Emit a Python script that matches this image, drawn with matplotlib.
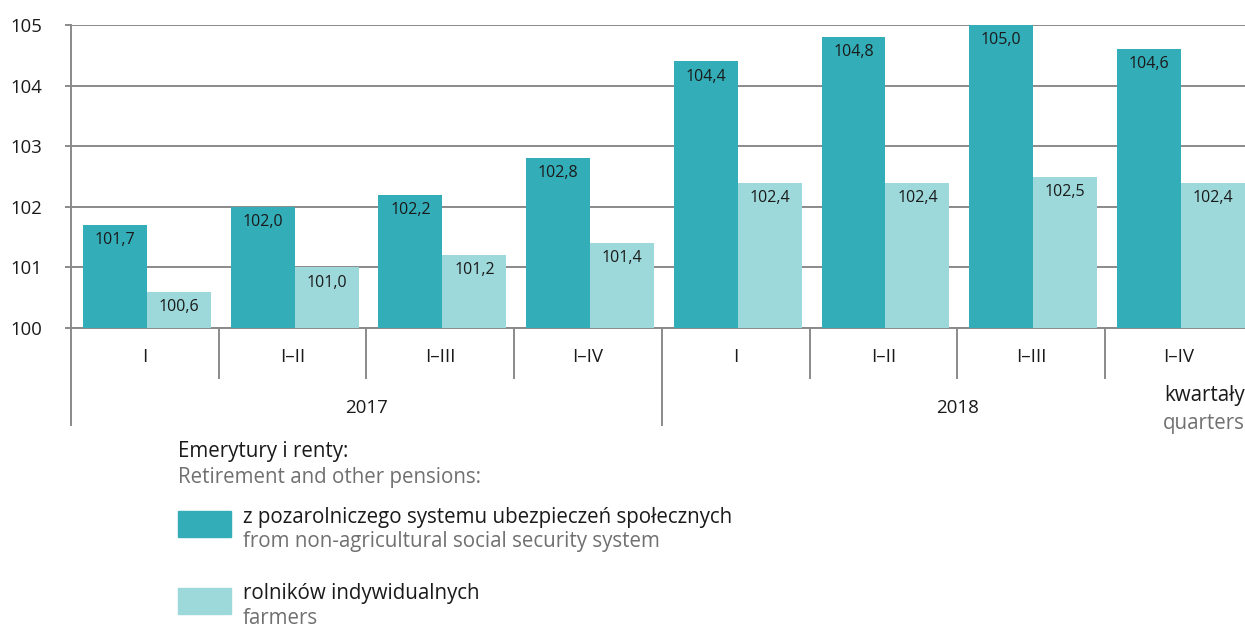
import matplotlib.pyplot as plt
import matplotlib.transforms as mtransforms
from matplotlib.patches import Rectangle

# Pension indices (previous year = 100), cumulative quarters
years = ["2017", "2018"]
periods = ["I", "I\u2013II", "I\u2013III", "I\u2013IV"]
non_agri = [101.7, 102.0, 102.2, 102.8, 104.4, 104.8, 105.0, 104.6]
farmers = [100.6, 101.0, 101.2, 101.4, 102.4, 102.4, 102.5, 102.4]

DARK = "#33adb8"
LIGHT = "#9dd8da"
GRID = "#8a8a8a"
GREY_TXT = "#707070"
TXT = "#1a1a1a"
LEG_FS = 14.8

plt.rcParams["font.family"] = ["Open Sans", "DejaVu Sans"]

W, H = 1245, 628
fig = plt.figure(figsize=(W / 100, H / 100), dpi=100)

# axes placed in pixel units
left, right, top, bottom = 71, 1245, 25, 328
ax = fig.add_axes([left / W, 1 - bottom / H, (right - left) / W, (bottom - top) / H])
group_px = 147.7
ax.set_xlim(0, (right - left) / group_px)
ax.set_ylim(100, 105)

bar_w = 0.433
n = len(non_agri)
xs = list(range(n))
ax.bar([x + 0.298 for x in xs], [v - 100 for v in non_agri], bottom=100, width=bar_w,
       color=DARK, zorder=3)
ax.bar([x + 0.731 for x in xs], [v - 100 for v in farmers], bottom=100, width=bar_w,
       color=LIGHT, zorder=3)

for x, v in zip(xs, non_agri):
    ax.text(x + 0.298, v - 0.25, f"{v:.1f}".replace(".", ","), ha="center", va="center",
            fontsize=11.5, color=TXT, zorder=4)
for x, v in zip(xs, farmers):
    ax.text(x + 0.731, v - 0.25, f"{v:.1f}".replace(".", ","), ha="center", va="center",
            fontsize=11.5, color=TXT, zorder=4)

ax.set_yticks([100, 101, 102, 103, 104, 105])
ax.set_yticklabels(["100", "101", "102", "103", "104", "105"])
ax.yaxis.grid(True, color=GRID, linewidth=1.4, zorder=0)
ax.tick_params(axis="y", length=4.3, width=1.4, color=GRID, labelsize=13.3, pad=16.5,
               labelcolor=TXT)
ax.tick_params(axis="x", length=0, labelbottom=False)
for s in ["top", "right"]:
    ax.spines[s].set_visible(False)
for s in ["bottom", "left"]:
    ax.spines[s].set_color(GRID)
    ax.spines[s].set_linewidth(1.4)

# category axis below the plot, in data x and figure y
tr = mtransforms.blended_transform_factory(ax.transData, fig.transFigure)


def fy(py):
    return 1 - py / H


for i in range(n + 1):
    end = 425 if i % 4 == 0 else 378
    ax.plot([i, i], [fy(328), fy(end)], transform=tr, color=GRID, lw=1.4, clip_on=False)
for i in range(n):
    ax.text(i + 0.5, fy(357), periods[i % 4], transform=tr, ha="center", va="center",
            fontsize=13.5, color=TXT)
for k, yr in enumerate(years):
    ax.text(4 * k + 2, fy(408), yr, transform=tr, ha="center", va="center",
            fontsize=13.5, color=TXT)

fig.text(1245 / W, fy(396), "kwartały", ha="right", va="center", fontsize=LEG_FS, color=TXT)
fig.text(1245 / W, fy(423), "quarters", ha="right", va="center", fontsize=LEG_FS,
         color=GREY_TXT)

# legend drawn by hand
fig.text(178 / W, fy(451), "Emerytury i renty:", ha="left", va="center", fontsize=LEG_FS,
         color=TXT)
fig.text(178 / W, fy(477), "Retirement and other pensions:", ha="left", va="center",
         fontsize=LEG_FS, color=GREY_TXT)
entries = [(DARK, 511, "z pozarolniczego systemu ubezpieczeń społecznych",
            "from non-agricultural social security system"),
           (LIGHT, 588, "rolników indywidualnych", "farmers")]
for col, py, pl, en in entries:
    fig.patches.append(Rectangle((178 / W, fy(py + 26)), 53 / W, 26 / H,
                                 transform=fig.transFigure, color=col))
    fig.text(243 / W, fy(py + 6), pl, ha="left", va="center", fontsize=LEG_FS, color=TXT)
    fig.text(243 / W, fy(py + 31), en, ha="left", va="center", fontsize=LEG_FS, color=GREY_TXT)

fig.savefig("out.png", dpi=100)
